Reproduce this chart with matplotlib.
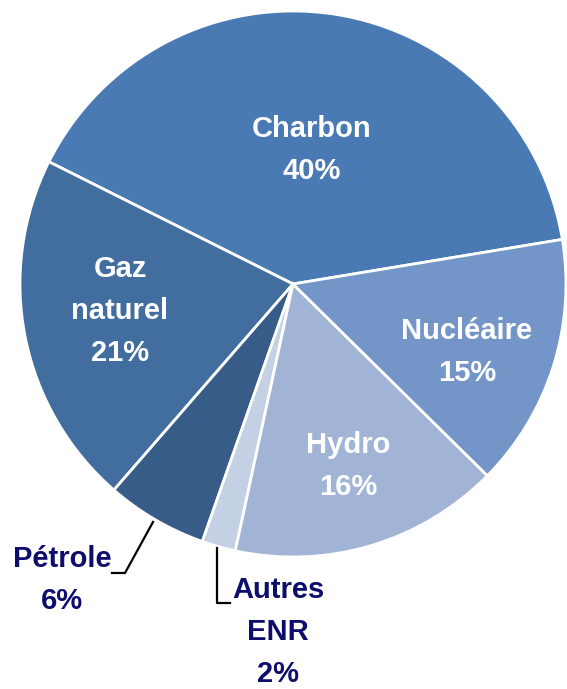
import matplotlib
matplotlib.use("Agg")
import matplotlib.pyplot as plt
import numpy as np

categories = ["Charbon", "Gaz\nnaturel", "Pétrole", "Autres\nENR", "Hydro", "Nucléaire"]
values = [40, 21, 6, 2, 16, 15]
colors = ["#4A7AB4", "#426E9F", "#385C88", "#C4D0E4", "#A2B4D5", "#7395C7"]

W, H = 567, 689
fig = plt.figure(figsize=(W / 100, H / 100), dpi=100)
ax = fig.add_axes([0, 0, 1, 1])

cx, cy, R = 293, H - 284, 273
wedges, _ = ax.pie(values, colors=colors, startangle=9.4, counterclock=True,
                   center=(cx, cy), radius=R, frame=True,
                   wedgeprops=dict(edgecolor="white", linewidth=2))
ax.set_xlim(0, W)
ax.set_ylim(0, H)
ax.axis("off")

font = dict(family=["Liberation Sans", "DejaVu Sans"],
            fontweight="bold", fontsize=21, ha="center", va="center",
            linespacing=1.62)

def P(x, y):
    return (x, H - y)

inside = {
    0: (312, 150),
    1: (120, 311),
    4: (348, 466),
    5: (467, 352),
}
for i, (x, y) in inside.items():
    ax.text(*P(x, y), f"{categories[i]}\n{values[i]}%", color="white", **font)

navy = "#0D0D6B"
ax.text(*P(62, 580), f"{categories[2]}\n{values[2]}%", color=navy, **font)
ax.text(*P(278, 632), f"{categories[3]}\n{values[3]}%", color=navy, **font)

# leader lines
ax.plot([153, 125, 112], [H - 522, H - 573, H - 573], color="black", lw=1.6)
ax.plot([217, 217, 230], [H - 548, H - 603, H - 603], color="black", lw=1.6)

fig.savefig("out.png", dpi=100)
